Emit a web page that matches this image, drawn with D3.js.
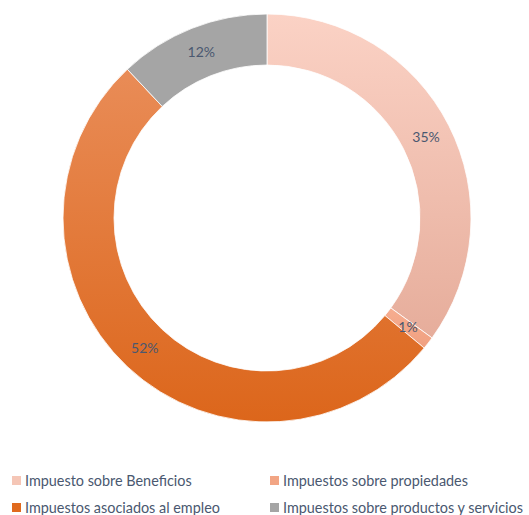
<!DOCTYPE html>
<html>
<head>
<meta charset="utf-8">
<script src="https://cdn.jsdelivr.net/npm/d3@7"></script>
<style>
  body { margin: 0; background: #fff; }
  svg { display: block; }
</style>
</head>
<body>
<svg id="chart" width="529" height="515"></svg>
<script>
// --- Datos ---
const categorias = [
  "Impuesto sobre Beneficios",
  "Impuestos sobre propiedades",
  "Impuestos asociados al empleo",
  "Impuestos sobre productos y servicios"
];
const valores = [35, 1, 52, 12];
const etiquetas = ["35%", "1%", "52%", "12%"];

// colores: [arriba, abajo] del degradado, y color de leyenda
const coloresArriba = ["#fbd2c5", "#f6ad90", "#e98c57", "#a5a5a5"];
const coloresAbajo  = ["#e6ad9b", "#f0a080", "#dc661b", "#a5a5a5"];
const coloresLeyenda = ["#f5c6b6", "#f2a584", "#e06a1e", "#a5a5a5"];

const svg = d3.select("#chart");
const cx = 267, cy = 218, rOut = 204, rIn = 153;
const textColor = "#4a5870";

const datos = categorias.map((c, i) => ({ nombre: c, valor: valores[i], etiqueta: etiquetas[i], i: i }));

// --- Degradados ---
const defs = svg.append("defs");
datos.forEach(d => {
  const grad = defs.append("linearGradient")
    .attr("id", "grad" + d.i)
    .attr("x1", 0).attr("y1", 0).attr("x2", 0).attr("y2", 1);
  grad.append("stop").attr("offset", "0%").attr("stop-color", coloresArriba[d.i]);
  grad.append("stop").attr("offset", "100%").attr("stop-color", coloresAbajo[d.i]);
});

const pie = d3.pie().value(d => d.valor).sort(null);
const arc = d3.arc().innerRadius(rIn).outerRadius(rOut);

const g = svg.append("g").attr("transform", `translate(${cx},${cy})`);

const arcos = pie(datos);

g.selectAll("path")
  .data(arcos)
  .enter().append("path")
    .attr("d", arc)
    .attr("fill", d => `url(#grad${d.data.i})`)
    .attr("stroke", "#fff")
    .attr("stroke-width", 0.8);

// --- Etiquetas ---
g.selectAll("text.valor")
  .data(arcos)
  .enter().append("text")
    .attr("class", "valor")
    .attr("transform", d => `translate(${arc.centroid(d)})`)
    .attr("text-anchor", "middle")
    .attr("dy", "0.35em")
    .text(d => d.data.etiqueta)
    .style("font-family", "Lato, 'Open Sans', sans-serif")
    .style("font-size", "14px")
    .style("fill", textColor);

// --- Leyenda ---
const leyendaPos = [[12, 481], [270, 481], [12, 508], [270, 508]];
const leyenda = svg.selectAll("g.leyenda")
  .data(datos)
  .enter().append("g")
    .attr("class", "leyenda")
    .attr("transform", d => `translate(${leyendaPos[d.i][0]},${leyendaPos[d.i][1]})`);

leyenda.append("rect")
  .attr("x", 0).attr("y", -5)
  .attr("width", 9).attr("height", 9)
  .attr("fill", d => coloresLeyenda[d.i]);

leyenda.append("text")
  .attr("x", 13)
  .attr("dy", "0.35em")
  .text(d => d.nombre)
  .style("font-family", "Lato, 'Open Sans', sans-serif")
  .style("font-size", "14.4px")
  .style("fill", textColor);
</script>
</body>
</html>
